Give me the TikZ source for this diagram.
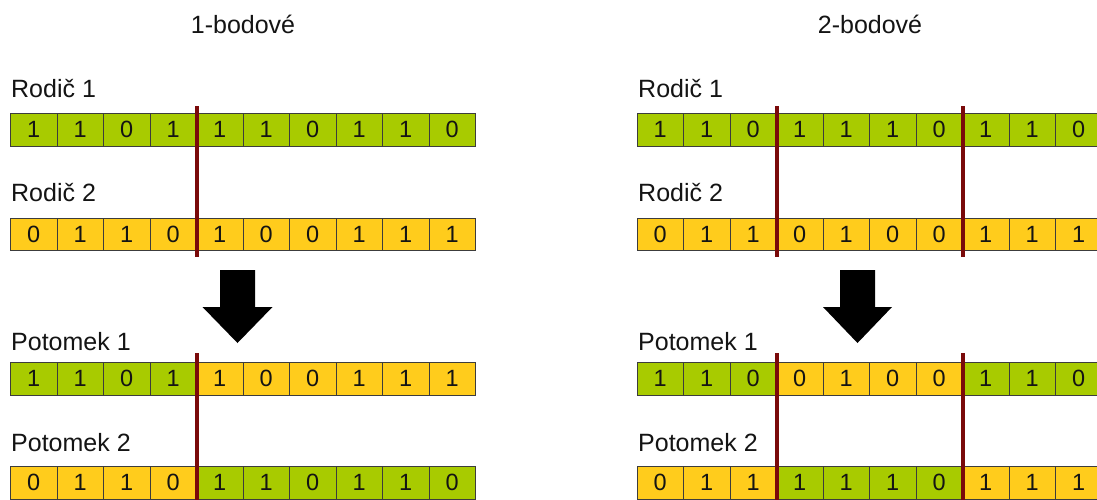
\documentclass[tikz,border=0pt]{standalone}
\usepackage{fontspec}
\setmainfont{Liberation Sans}
\definecolor{geneA}{HTML}{A8CB00}
\definecolor{geneB}{HTML}{FFCC1C}
\definecolor{cutred}{HTML}{7A0A0A}
\definecolor{cellline}{HTML}{3C3C3C}
\definecolor{txt}{HTML}{141414}
\newcommand\chromrow[4]{%
  \foreach \v/\col [count=\i] in {#4} {%
    \node[cell,fill=\col] (#1-\i) at ({#2+(\i-1)*46.5},#3) {\v};}}
\tikzset{
  cell/.style={draw=cellline,line width=1pt,anchor=north west,minimum width=46.5pt,
    minimum height=32.5pt,inner sep=0pt,text=txt,font=\fontsize{23.5}{27}\selectfont},
  lbl/.style={anchor=base west,inner sep=0pt,text=txt,font=\fontsize{25}{29}\selectfont},
  ttl/.style={anchor=base,inner sep=0pt,text=txt,font=\fontsize{25}{29}\selectfont},
  cut/.style={draw=cutred,line width=3.2pt},
  bigarrow/.style={fill=black,draw=none}
}
\begin{document}
\begin{tikzpicture}[x=1pt,y=-1pt]
\useasboundingbox (0,0) rectangle (1097,499);
\clip (0,0) rectangle (1097,499);
\fill[white] (0,0) rectangle (1097,499);
% titles
\node[ttl] (t1) at (243,33) {1-bodové};
\node[ttl] (t2) at (870,33) {2-bodové};
% left labels
\node[lbl] (lr1) at (11,97) {Rodič 1};
\node[lbl] (lr2) at (11,201) {Rodič 2};
\node[lbl] (lp1) at (11,350) {Potomek 1};
\node[lbl] (lp2) at (11,451) {Potomek 2};
% right labels
\node[lbl] (rr1) at (638,97) {Rodič 1};
\node[lbl] (rr2) at (638,201) {Rodič 2};
\node[lbl] (rp1) at (638,350) {Potomek 1};
\node[lbl] (rp2) at (638,451) {Potomek 2};
% left rows
\chromrow{LA}{10}{113}{1/geneA,1/geneA,0/geneA,1/geneA,1/geneA,1/geneA,0/geneA,1/geneA,1/geneA,0/geneA}
\chromrow{LB}{10}{217.5}{0/geneB,1/geneB,1/geneB,0/geneB,1/geneB,0/geneB,0/geneB,1/geneB,1/geneB,1/geneB}
\chromrow{LC}{10}{362}{1/geneA,1/geneA,0/geneA,1/geneA,1/geneB,0/geneB,0/geneB,1/geneB,1/geneB,1/geneB}
\chromrow{LD}{10}{466}{0/geneB,1/geneB,1/geneB,0/geneB,1/geneA,1/geneA,0/geneA,1/geneA,1/geneA,0/geneA}
% right rows
\chromrow{RA}{636.5}{113}{1/geneA,1/geneA,0/geneA,1/geneA,1/geneA,1/geneA,0/geneA,1/geneA,1/geneA,0/geneA}
\chromrow{RB}{636.5}{217.5}{0/geneB,1/geneB,1/geneB,0/geneB,1/geneB,0/geneB,0/geneB,1/geneB,1/geneB,1/geneB}
\chromrow{RC}{636.5}{362}{1/geneA,1/geneA,0/geneA,0/geneB,1/geneB,0/geneB,0/geneB,1/geneA,1/geneA,0/geneA}
\chromrow{RD}{636.5}{466}{0/geneB,1/geneB,1/geneB,1/geneA,1/geneA,1/geneA,0/geneA,1/geneB,1/geneB,1/geneB}
% cut lines
\draw[cut] ([yshift=7pt]LA-4.north east) -- ([yshift=-6pt]LB-4.south east);
\draw[cut] ([yshift=9pt]LC-4.north east) -- ([yshift=-4pt]LD-4.south east);
\draw[cut] ([yshift=7pt]RA-3.north east) -- ([yshift=-6pt]RB-3.south east);
\draw[cut] ([yshift=9pt]RC-3.north east) -- ([yshift=-4pt]RD-3.south east);
\draw[cut] ([yshift=7pt]RA-7.north east) -- ([yshift=-6pt]RB-7.south east);
\draw[cut] ([yshift=9pt]RC-7.north east) -- ([yshift=-4pt]RD-7.south east);
% big arrows
\fill[bigarrow] (220,270) -- (255,270) -- (255,307) -- (272.5,307) -- (237.5,343) -- (202.5,307) -- (220,307) -- cycle;
\fill[bigarrow] (840,270) -- (875,270) -- (875,307) -- (892,307) -- (857.5,343) -- (823,307) -- (840,307) -- cycle;
\end{tikzpicture}
\end{document}
